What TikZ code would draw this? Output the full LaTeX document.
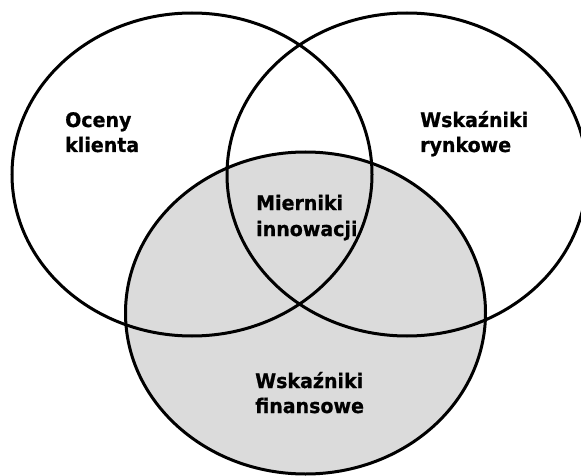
\documentclass[tikz,border=0pt]{standalone}
\usepackage{fontspec}
\setmainfont{DejaVu Sans}[FakeStretch=0.95, BoldFeatures={FakeBold=0.8}]
\begin{document}
\begin{tikzpicture}[x=1pt,y=-1pt,
    ring/.style={draw=black, line width=3pt},
    lbl/.style={anchor=base west, inner sep=0pt, font=\fontsize{20}{24}\selectfont\bfseries}]
  \useasboundingbox (0,0) rectangle (581,476);
  \clip (0,0) rectangle (581,476);
  % shaded financial set
  \fill[gray!28] (305.5,313) ellipse [x radius=180, y radius=161];
  % the three sets
  \draw[ring] (192,174.5) ellipse [x radius=180, y radius=161.5];
  \draw[ring] (407,174.5) ellipse [x radius=180, y radius=161.5];
  \draw[ring] (305.5,313) ellipse [x radius=180, y radius=161];
  % labels
  \node[lbl] (oc1) at (65,127) {Oceny};
  \node[lbl] (oc2) at (65,152) {klienta};
  \node[lbl] (wr1) at (420,127) {Wskaźniki};
  \node[lbl] (wr2) at (420,152) {rynkowe};
  \node[lbl] (mi1) at (256,210) {Mierniki};
  \node[lbl] (mi2) at (256,236) {innowacji};
  \node[lbl] (wf1) at (255,388) {Wskaźniki};
  \node[lbl] (wf2) at (255,413) {finansowe};
\end{tikzpicture}
\end{document}
